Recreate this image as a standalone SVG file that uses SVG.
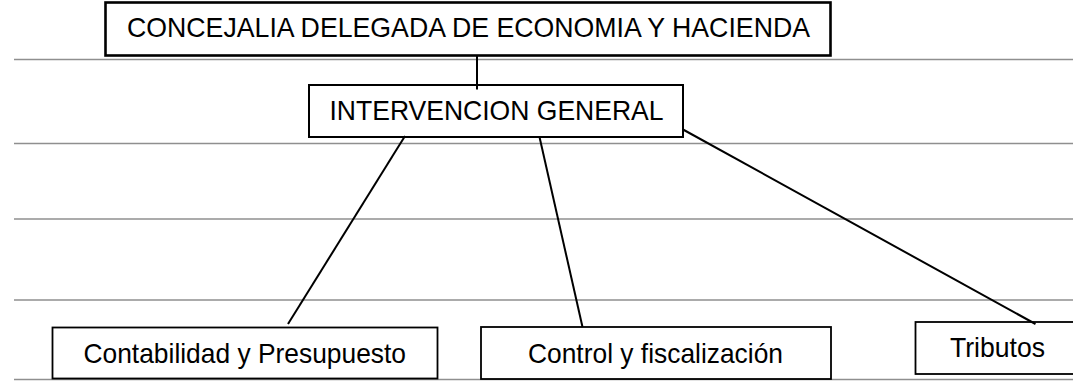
<svg xmlns="http://www.w3.org/2000/svg" width="1073" height="381" viewBox="0 0 1073 381">
<style>
.rule{stroke:#8f8f8f;stroke-width:1.4;fill:none}
.box{fill:#fff;stroke:#000}
.t{font-family:"Liberation Sans",Arial,sans-serif;font-size:28.5px;fill:#000}
.conn{stroke:#000;stroke-width:2;fill:none}
</style>
<rect width="1073" height="381" fill="#fff"/>
<g id="rules">
<line class="rule" x1="14" y1="59.5" x2="1073" y2="59.5"/>
<line class="rule" x1="14" y1="143.5" x2="1073" y2="143.5"/>
<line class="rule" x1="14" y1="219" x2="1073" y2="219"/>
<line class="rule" x1="14" y1="300" x2="1073" y2="300"/>
<line class="rule" x1="14" y1="379.5" x2="1073" y2="379.5"/>
</g>
<g id="concejalia">
<rect class="box" x="105.5" y="2.5" width="725" height="53" stroke-width="2.6"/>
<text class="t" x="127" y="37" textLength="683" lengthAdjust="spacingAndGlyphs">CONCEJALIA DELEGADA DE ECONOMIA Y HACIENDA</text>
</g>
<g id="intervencion">
<rect class="box" x="309" y="85" width="374" height="52" stroke-width="2"/>
<text class="t" x="329.5" y="120" textLength="334" lengthAdjust="spacingAndGlyphs">INTERVENCION GENERAL</text>
</g>
<g id="contabilidad">
<rect class="box" x="52.5" y="327.5" width="385" height="51" stroke-width="1.8"/>
<text class="t" x="83.5" y="363.3" textLength="322.5" lengthAdjust="spacingAndGlyphs">Contabilidad y Presupuesto</text>
</g>
<g id="control">
<rect class="box" x="481" y="327" width="350" height="52" stroke-width="1.8"/>
<text class="t" x="528" y="363.3" textLength="255" lengthAdjust="spacingAndGlyphs">Control y fiscalización</text>
</g>
<g id="tributos">
<rect class="box" x="915.5" y="322" width="170" height="52" stroke-width="1.8"/>
<text class="t" x="950" y="356.7" textLength="95" lengthAdjust="spacingAndGlyphs">Tributos</text>
</g>
<g id="connectors">
<line class="conn" x1="477" y1="56" x2="477" y2="89.5" stroke-width="2.4"/>
<line class="conn" x1="405" y1="136" x2="288" y2="324"/>
<line class="conn" x1="539.5" y1="137" x2="582.5" y2="327"/>
<line class="conn" x1="683" y1="129.5" x2="1035.5" y2="324"/>
</g>
</svg>
